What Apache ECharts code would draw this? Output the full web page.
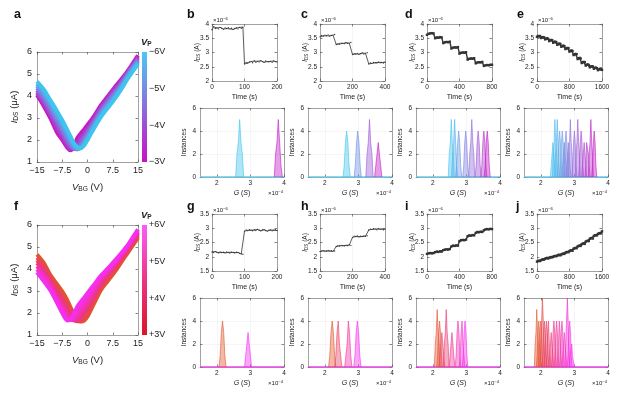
<!DOCTYPE html>
<html>
<head>
<meta charset="utf-8">
<script src="https://cdn.jsdelivr.net/npm/echarts@6/dist/echarts.min.js"></script>
<style>
html, body { margin: 0; padding: 0; background: #fff; }
#main { width: 624px; height: 399px; }
</style>
</head>
<body>
<div id="main"></div>
<script>
// ---------- data ----------
// transfer curves (panels a, f): back-gate voltage and drain current (uA)
const vbg = [-15, -13, -11, -9, -7.5, -6, -5, -4, -3, -2, -1, 0, 2, 4, 6, 8, 10, 12, 15];

// panel a, Vp = -6 ... -3 V
const aVp = [-6, -5.5, -5, -4.5, -4, -3.5, -3];
const aCurves = [
    [4.66, 4.30, 3.80, 3.30, 2.90, 2.45, 2.15, 1.85, 1.68, 1.62, 1.75, 2.00, 2.55, 3.05, 3.45, 3.85, 4.30, 4.80, 5.45],
    [4.56, 4.18, 3.68, 3.15, 2.75, 2.32, 2.03, 1.76, 1.62, 1.63, 1.82, 2.08, 2.62, 3.13, 3.53, 3.93, 4.37, 4.87, 5.52],
    [4.46, 4.05, 3.56, 3.02, 2.61, 2.18, 1.92, 1.68, 1.58, 1.66, 1.92, 2.17, 2.70, 3.21, 3.62, 4.01, 4.44, 4.93, 5.58],
    [4.36, 3.94, 3.43, 2.88, 2.47, 2.05, 1.80, 1.62, 1.58, 1.78, 2.03, 2.27, 2.79, 3.30, 3.71, 4.10, 4.51, 4.99, 5.64],
    [4.26, 3.80, 3.28, 2.72, 2.32, 1.92, 1.70, 1.58, 1.66, 1.95, 2.16, 2.38, 2.88, 3.38, 3.80, 4.19, 4.59, 5.05, 5.70],
    [4.15, 3.67, 3.13, 2.53, 2.16, 1.78, 1.60, 1.62, 1.88, 2.12, 2.30, 2.52, 2.99, 3.48, 3.89, 4.28, 4.67, 5.10, 5.77],
    [4.05, 3.55, 2.98, 2.33, 2.00, 1.65, 1.53, 1.70, 2.10, 2.30, 2.48, 2.68, 3.10, 3.58, 3.98, 4.38, 4.75, 5.15, 5.85]
];

// panel f, Vp = +3 ... +6 V
const fVp = [3, 3.5, 4, 4.5, 5, 5.5, 6];
const fCurves = [
    [4.66, 4.28, 3.72, 3.30, 2.98, 2.58, 2.25, 1.95, 1.70, 1.61, 1.65, 1.84, 2.45, 3.05, 3.45, 3.85, 4.30, 4.75, 5.42],
    [4.52, 4.15, 3.62, 3.15, 2.82, 2.42, 2.10, 1.82, 1.64, 1.62, 1.75, 1.97, 2.58, 3.16, 3.56, 3.95, 4.38, 4.83, 5.49],
    [4.40, 4.02, 3.51, 3.01, 2.66, 2.26, 1.96, 1.72, 1.62, 1.70, 1.90, 2.12, 2.71, 3.27, 3.66, 4.04, 4.46, 4.89, 5.56],
    [4.27, 3.89, 3.40, 2.87, 2.50, 2.10, 1.84, 1.66, 1.68, 1.85, 2.06, 2.28, 2.83, 3.38, 3.76, 4.12, 4.53, 4.95, 5.62],
    [4.13, 3.76, 3.27, 2.73, 2.34, 1.94, 1.73, 1.68, 1.82, 2.03, 2.25, 2.47, 2.97, 3.48, 3.85, 4.20, 4.59, 5.00, 5.68],
    [3.99, 3.61, 3.14, 2.59, 2.17, 1.79, 1.68, 1.78, 2.02, 2.25, 2.46, 2.67, 3.13, 3.59, 3.93, 4.28, 4.65, 5.05, 5.74],
    [3.85, 3.45, 3.02, 2.45, 2.00, 1.66, 1.72, 1.98, 2.30, 2.50, 2.70, 2.90, 3.30, 3.70, 4.02, 4.36, 4.72, 5.10, 5.80]
];

// time traces, I_DS in units of 1e-6 A, sampled every *Step seconds
const bStep = 5;
const bTrace = [3.80, 3.90, 3.84, 3.86, 3.83, 3.88, 3.85, 3.82, 3.86, 3.84, 3.87, 3.83, 3.85, 3.81, 3.84, 3.86, 3.83, 3.88, 3.85, 3.89,
    2.60, 2.65, 2.63, 2.67, 2.68, 2.64, 2.70, 2.66, 2.69, 2.67, 2.71, 2.68, 2.66, 2.70, 2.68, 2.67, 2.69, 2.66, 2.70, 2.68, 2.67];
const cStep = 10;
const cTrace = [3.55, 3.60, 3.58, 3.61, 3.59, 3.62, 3.58, 3.60, 3.61, 3.63,
    3.28, 3.31, 3.30, 3.33, 3.32, 3.31, 3.34, 3.32, 3.33, 3.35,
    2.93, 2.96, 2.95, 2.97, 2.94, 2.96, 2.98, 2.95, 2.97, 2.99,
    2.60, 2.63, 2.62, 2.65, 2.64, 2.63, 2.66, 2.64, 2.65, 2.63, 2.66];
const dStep = 20;
const dTrace = [3.62, 3.66, 3.67, 3.68, 3.67, 3.50, 3.53, 3.52, 3.54, 3.53, 3.33, 3.36, 3.37, 3.36, 3.38,
    3.14, 3.17, 3.18, 3.17, 3.19, 2.96, 2.99, 3.00, 2.99, 3.01, 2.75, 2.78, 2.79, 2.78, 2.80,
    2.62, 2.65, 2.66, 2.65, 2.67, 2.53, 2.55, 2.56, 2.55, 2.57, 2.57];
const eStep = 25;
const eTrace = [3.55, 3.58, 3.57, 3.58, 3.51, 3.53, 3.54, 3.53, 3.46, 3.49, 3.50, 3.48, 3.40, 3.43, 3.44, 3.43,
    3.34, 3.37, 3.38, 3.36, 3.27, 3.30, 3.31, 3.30, 3.20, 3.23, 3.24, 3.22, 3.12, 3.15, 3.16, 3.15,
    3.03, 3.06, 3.07, 3.05, 2.91, 2.94, 2.95, 2.94, 2.77, 2.80, 2.81, 2.79, 2.63, 2.66, 2.67, 2.66,
    2.54, 2.57, 2.58, 2.56, 2.48, 2.51, 2.52, 2.51, 2.43, 2.46, 2.47, 2.45, 2.38, 2.41, 2.42, 2.41, 2.39];
const gStep = 5;
const gTrace = [2.17, 2.15, 2.18, 2.16, 2.14, 2.17, 2.15, 2.16, 2.14, 2.17, 2.15, 2.13, 2.16, 2.15, 2.14, 2.16, 2.15, 2.12, 2.10, 2.09,
    2.90, 2.94, 2.92, 2.95, 2.93, 2.91, 2.94, 2.92, 2.96, 2.93, 2.91, 2.94, 2.95, 2.92, 2.90, 2.93, 2.94, 2.91, 2.93, 2.95, 2.92];
const hStep = 10;
const hTrace = [2.18, 2.20, 2.21, 2.19, 2.20, 2.22, 2.20, 2.21, 2.19, 2.20,
    2.36, 2.39, 2.38, 2.40, 2.39, 2.38, 2.40, 2.39, 2.41, 2.40,
    2.68, 2.72, 2.71, 2.73, 2.70, 2.72, 2.71, 2.73, 2.72, 2.74,
    2.94, 2.97, 2.96, 2.98, 2.97, 2.95, 2.98, 2.96, 2.97, 2.95, 2.97];
const iStep = 20;
const iTrace = [2.10, 2.12, 2.13, 2.12, 2.13, 2.16, 2.18, 2.17, 2.19, 2.18, 2.23, 2.25, 2.26, 2.25, 2.27,
    2.36, 2.39, 2.38, 2.40, 2.39, 2.55, 2.58, 2.59, 2.58, 2.60, 2.72, 2.75, 2.74, 2.76, 2.75,
    2.84, 2.87, 2.86, 2.88, 2.87, 2.93, 2.96, 2.97, 2.96, 2.98, 2.97];
const jStep = 25;
const jTrace = [1.83, 1.85, 1.86, 1.85, 1.88, 1.90, 1.91, 1.90, 1.93, 1.95, 1.96, 1.94, 1.96, 1.98, 1.99, 1.98,
    2.00, 2.02, 2.03, 2.02, 2.04, 2.06, 2.07, 2.05, 2.08, 2.10, 2.11, 2.10, 2.14, 2.16, 2.17, 2.16,
    2.20, 2.22, 2.23, 2.21, 2.28, 2.30, 2.31, 2.30, 2.36, 2.38, 2.39, 2.38, 2.44, 2.46, 2.47, 2.45,
    2.53, 2.55, 2.56, 2.55, 2.63, 2.65, 2.66, 2.64, 2.73, 2.75, 2.76, 2.75, 2.80, 2.82, 2.83, 2.82, 2.89];

// conductance histograms: peak centres (1e-4 S), bin counts per peak, bin width
const bG = [2.68, 3.83];
const bN = [[2, 3, 5, 3, 2], [2, 3, 5, 3, 1]];
const bW = 0.04;
const cG = [2.65, 2.98, 3.33, 3.59];
const cN = [[1, 3, 4, 3, 1], [1, 3, 4, 3, 1], [2, 3, 5, 3, 2], [1, 2, 3, 2, 1]];
const cW = 0.036;
const dG = [2.55, 2.65, 2.77, 2.98, 3.16, 3.35, 3.52, 3.62];
const dN = [[2, 3, 5, 3, 2], [2, 3, 5, 3, 1], [1, 3, 4, 3, 1], [1, 3, 4, 3, 1],
    [2, 3, 5, 3, 2], [1, 3, 4, 3, 1], [1, 3, 4, 3, 1], [1, 3, 4, 3, 1]];
const dW = 0.03;
const eG = [2.36, 2.42, 2.49, 2.56, 2.64, 2.70, 2.75, 2.82, 2.88, 3.00, 3.10, 3.20, 3.29, 3.39, 3.49, 3.59];
const eN = [[1, 2, 3, 2, 1], [2, 3, 5, 3, 2], [2, 3, 5, 3, 1], [1, 3, 4, 3, 1], [1, 3, 4, 3, 1], [1, 2, 3, 2, 1],
    [1, 3, 4, 3, 1], [1, 2, 3, 2, 1], [2, 3, 5, 3, 2], [1, 3, 4, 3, 1], [2, 3, 5, 3, 2], [1, 3, 4, 3, 1],
    [1, 2, 3, 3, 1], [1, 3, 3, 2, 1], [2, 3, 5, 3, 2], [1, 3, 4, 3, 1]];
const eW = 0.025;
const gG = [2.17, 2.93];
const gN = [[1, 3, 4, 3, 1], [1, 2, 3, 2, 1]];
const gW = 0.035;
const hG = [2.22, 2.40, 2.70, 2.97];
const hN = [[1, 3, 4, 3, 1], [1, 3, 4, 2, 1], [1, 2, 4, 3, 1], [1, 3, 4, 3, 1]];
const hW = 0.036;
const iG = [2.13, 2.20, 2.27, 2.40, 2.57, 2.75, 2.87, 2.96];
const iN = [[2, 3, 5, 3, 2], [1, 3, 4, 3, 1], [1, 2, 3, 2, 1], [2, 3, 5, 3, 2],
    [1, 2, 3, 2, 1], [1, 3, 4, 3, 1], [1, 3, 4, 2, 1], [1, 3, 4, 3, 1]];
const iW = 0.028;
const jG = [1.88, 1.94, 2.00, 2.05, 2.11, 2.17, 2.23, 2.31, 2.39, 2.47, 2.55, 2.63, 2.70, 2.79, 2.86, 2.92];
const jN = [[2, 3, 5, 3, 2], [1, 3, 4, 3, 1], [1, 3, 4, 3, 1], [2, 4, 6, 4, 2], [1, 3, 4, 3, 1], [1, 3, 4, 3, 1],
    [1, 3, 4, 2, 1], [1, 2, 3, 2, 1], [1, 3, 4, 3, 1], [1, 3, 4, 3, 1], [1, 2, 4, 3, 1], [1, 3, 4, 3, 1],
    [1, 2, 3, 2, 1], [2, 4, 6, 4, 2], [1, 3, 4, 3, 1], [1, 1, 2, 1, 1]];
const jW = 0.024;

// ---------- styling helpers ----------
const FONT = 'Liberation Sans, Arial, Helvetica, sans-serif';
const TXT = '#222';
const BOX = '#8a8a8a';
const topStops = ['#3ec4ef', '#8676de', '#c31ac5'];
const botStops = ['#e2552a', '#ee3680', '#f52ef0'];

function hex(h) { return [1, 3, 5].map(i => parseInt(h.substr(i, 2), 16)); }
function mix(stops, t) {
    const n = stops.length - 1;
    const k = Math.min(n - 1, Math.floor(t * n));
    const u = t * n - k;
    const a = hex(stops[k]), b = hex(stops[k + 1]);
    return 'rgb(' + a.map((v, i) => Math.round(v + (b[i] - v) * u)).join(',') + ')';
}
const minus = v => (v < 0 ? '\u2212' + Math.abs(v) : String(v));

function rich(fs) {
    return {
        i: { fontStyle: 'italic', fontSize: fs, fontFamily: FONT, color: TXT },
        s: { fontSize: fs * 0.7, fontFamily: FONT, color: TXT, padding: [fs * 0.5, 0, 0, 0] },
        n: { fontSize: fs, fontFamily: FONT, color: TXT },
        p: { fontSize: fs * 0.7, fontFamily: FONT, color: TXT, padding: [0, 0, fs * 0.5, 0] }
    };
}

const grids = [], xAxes = [], yAxes = [], series = [], graphics = [];

function axis(o, pos, mirror) {
    return {
        type: 'value', gridIndex: o.g, position: pos, min: o.min, max: o.max, interval: o.interval,
        inverse: !!o.inverse,
        axisLine: { show: true, onZero: false, lineStyle: { color: BOX, width: 0.8 } },
        axisTick: { show: true, inside: true, length: o.tl || 2.5,
            lineStyle: { color: '#555', width: 0.7 }, customValues: o.cv },
        axisLabel: { show: !mirror, fontSize: o.fs, color: TXT, margin: o.margin || 3,
            fontFamily: FONT, formatter: o.fmt || (v => String(v)), customValues: o.cv,
            showMinLabel: true, showMaxLabel: true, hideOverlap: false },
        splitLine: { show: !mirror && !!o.split, lineStyle: { color: '#efefef', width: 0.6 } },
        name: mirror ? '' : o.name, nameLocation: 'middle', nameGap: o.nameGap, nameRotate: o.nameRotate,
        nameMoveOverlap: false,
        nameTextStyle: { fontSize: o.nfs, color: TXT, fontFamily: FONT, rich: rich(o.nfs || 7) }
    };
}

// a boxed plot with inside ticks on all four sides
function addPlot(box, xo, yo) {
    const g = grids.length;
    grids.push(Object.assign({ show: false, outerBoundsMode: 'none' }, box));
    xo.g = g; yo.g = g;
    const xi = xAxes.length, yi = yAxes.length;
    xAxes.push(axis(xo, 'bottom', false), axis(xo, 'top', true));
    yAxes.push(axis(yo, 'left', false), axis(yo, 'right', true));
    return { xi, yi };
}

function label(x, y, text, fs, opts) {
    graphics.push({
        type: 'text', x, y, silent: true,
        style: Object.assign({ text, fontSize: fs, fontFamily: FONT, fill: TXT,
            align: 'left', verticalAlign: 'middle', rich: rich(fs) }, opts || {})
    });
}

// ---------- panels a and f ----------
function transferPanel(top, curves, vps, stops, order, cbar) {
    const ax = addPlot({ left: 37, top, width: 101, height: 110 },
        { min: -15, max: 15, interval: 7.5, fs: 9, margin: 4, fmt: minus,
            name: '{i|V}{s|BG}{n| (V)}', nfs: 9.5, nameGap: 19 },
        { min: 1, max: 6, interval: 1, fs: 9, margin: 5,
            name: '{i|I}{s|DS}{n| (\u03bcA)}', nfs: 9.5, nameGap: 17, nameRotate: 90 });
    order.forEach(k => {
        series.push({
            type: 'line', xAxisIndex: ax.xi, yAxisIndex: ax.yi, silent: true,
            data: vbg.map((x, j) => [x, curves[k][j]]),
            showSymbol: false, smooth: 0.3,
            lineStyle: { width: 4, color: mix(stops, k / (curves.length - 1)) }
        });
    });
    // colour bar
    const g = grids.length;
    grids.push({ show: true, left: 142, top, width: 5, height: 110, borderWidth: 0, outerBoundsMode: 'none',
        backgroundColor: new echarts.graphic.LinearGradient(0, 0, 0, 1,
            cbar.colors.map((c, i) => ({ offset: i / (cbar.colors.length - 1), color: c }))) });
    xAxes.push({ type: 'value', gridIndex: g, show: false, min: 0, max: 1 });
    yAxes.push({ type: 'value', gridIndex: g, position: 'right', min: cbar.min, max: cbar.max, interval: 1,
        inverse: cbar.inverse, axisLine: { show: false, onZero: false }, splitLine: { show: false },
        axisTick: { show: false },
        axisLabel: { fontSize: 9, color: TXT, margin: 2, fontFamily: FONT, formatter: cbar.fmt } });
    label(141, top - 10, '{b|V}{bs|P}', 9, {
        rich: { b: { fontSize: 9.5, fontWeight: 'bold', fontStyle: 'italic', fontFamily: FONT, color: TXT },
            bs: { fontSize: 6.5, fontWeight: 'bold', fontFamily: FONT, color: TXT, padding: [4, 0, 0, 0] } } });
}

transferPanel(52, aCurves, aVp, topStops, [6, 5, 4, 3, 2, 1, 0], {
    min: -6, max: -3, inverse: true, fmt: v => '\u2212' + Math.abs(v) + 'V',
    colors: ['#4ac8f3', '#8a6fdc', '#c80fc8']
});
transferPanel(225, fCurves, fVp, botStops, [0, 1, 2, 3, 4, 5, 6], {
    min: 3, max: 6, inverse: false, fmt: v => '+' + v + 'V',
    colors: ['#fa5cfa', '#ec3484', '#dc1528']
});

// ---------- time traces and histograms ----------
const colLeft = [212, 320, 427, 537];
const histLeft = [200, 308, 416, 524];
const tMax = [200, 400, 800, 1600];

function timePanel(col, top, yMin, yMax, trace, step, dense) {
    const ax = addPlot({ left: colLeft[col], top, width: 65, height: 57 },
        { min: 0, max: tMax[col], interval: tMax[col] / 2, fs: 6.5, margin: 3, split: true,
            name: 'Time (s)', nfs: 7, nameGap: 13 },
        { min: yMin, max: yMax, interval: 0.5, fs: 6.5, margin: 3,
            name: '{i|I}{s|DS}{n| (A)}', nfs: 6.5, nameGap: 11, nameRotate: 90 });
    series.push({
        type: 'line', xAxisIndex: ax.xi, yAxisIndex: ax.yi, silent: true,
        data: trace.map((v, k) => [k * step, v]),
        symbol: dense ? 'rect' : 'circle', symbolSize: dense ? 2.4 : 1.4, showAllSymbol: true,
        itemStyle: { color: '#333' }, lineStyle: { width: dense ? 1.4 : 0.8, color: '#333' }
    });
    label(colLeft[col] + 1, top - 4, '\u00d710{p|\u22126}', 6);
}

function peakData(g, counts, w) {
    const half = (counts.length + 1) / 2;
    const pts = [[g - half * w, 0]];
    counts.forEach((n, k) => pts.push([g + (k - (counts.length - 1) / 2) * w, n]));
    pts.push([g + half * w, 0]);
    return pts;
}

function histPanel(col, top, G, N, w, stops, base) {
    const ax = addPlot({ left: histLeft[col], top, width: 84, height: 69 },
        { min: 1.5, max: 4, interval: 0.5, cv: [2, 3, 4], fs: 6.5, margin: 3, split: true,
            name: '{i|G}{n| (}{i|S}{n|)}', nfs: 7, nameGap: 13 },
        { min: 0, max: 6, interval: 2, fs: 6.5, margin: 4, split: true,
            name: 'Instances', nfs: 6.5, nameGap: 12, nameRotate: 90 });
    series.push({
        type: 'line', xAxisIndex: ax.xi, yAxisIndex: ax.yi, silent: true, z: 1,
        data: [[1.5, 0], [4, 0]], showSymbol: false, lineStyle: { width: 1.6, color: base }
    });
    G.forEach((g, k) => {
        const c = mix(stops, G.length > 1 ? k / (G.length - 1) : 0);
        series.push({
            type: 'line', xAxisIndex: ax.xi, yAxisIndex: ax.yi, silent: true, z: 2,
            data: peakData(g, N[k], w), showSymbol: false,
            lineStyle: { width: 0.7, color: c, opacity: 0.85 },
            areaStyle: { color: c, opacity: 0.42 }
        });
    });
    label(histLeft[col] + 83, top + 85, '\u00d710{p|\u22124}', 6, { align: 'right' });
}

timePanel(0, 24, 2, 4, bTrace, bStep, false);
timePanel(1, 24, 2, 4, cTrace, cStep, false);
timePanel(2, 24, 2, 4, dTrace, dStep, true);
timePanel(3, 24, 2, 4, eTrace, eStep, true);
timePanel(0, 214, 1.5, 3.5, gTrace, gStep, false);
timePanel(1, 214, 1.5, 3.5, hTrace, hStep, false);
timePanel(2, 214, 1.5, 3.5, iTrace, iStep, true);
timePanel(3, 214, 1.5, 3.5, jTrace, jStep, true);

histPanel(0, 108, bG, bN, bW, topStops, '#63cdf0');
histPanel(1, 108, cG, cN, cW, topStops, '#63cdf0');
histPanel(2, 108, dG, dN, dW, topStops, '#63cdf0');
histPanel(3, 108, eG, eN, eW, topStops, '#63cdf0');
histPanel(0, 298, gG, gN, gW, botStops, '#f23ef0');
histPanel(1, 298, hG, hN, hW, botStops, '#f23ef0');
histPanel(2, 298, iG, iN, iW, botStops, '#f23ef0');
histPanel(3, 298, jG, jN, jW, botStops, '#f23ef0');

// panel letters
[['a', 14, 15], ['b', 187, 15], ['c', 301, 15], ['d', 405, 15], ['e', 517, 15],
 ['f', 14, 207], ['g', 187, 207], ['h', 301, 207], ['i', 405, 207], ['j', 516, 207]].forEach(p => {
    label(p[1], p[2], p[0], 12.5, { fontWeight: 'bold', fill: '#111' });
});

const chart = echarts.init(document.getElementById('main'), null, { renderer: 'canvas' });
chart.setOption({
    animation: false,
    backgroundColor: '#fff',
    grid: grids,
    xAxis: xAxes,
    yAxis: yAxes,
    series: series,
    graphic: graphics
});
window.addEventListener('resize', () => { chart.resize(); });
</script>
</body>
</html>
